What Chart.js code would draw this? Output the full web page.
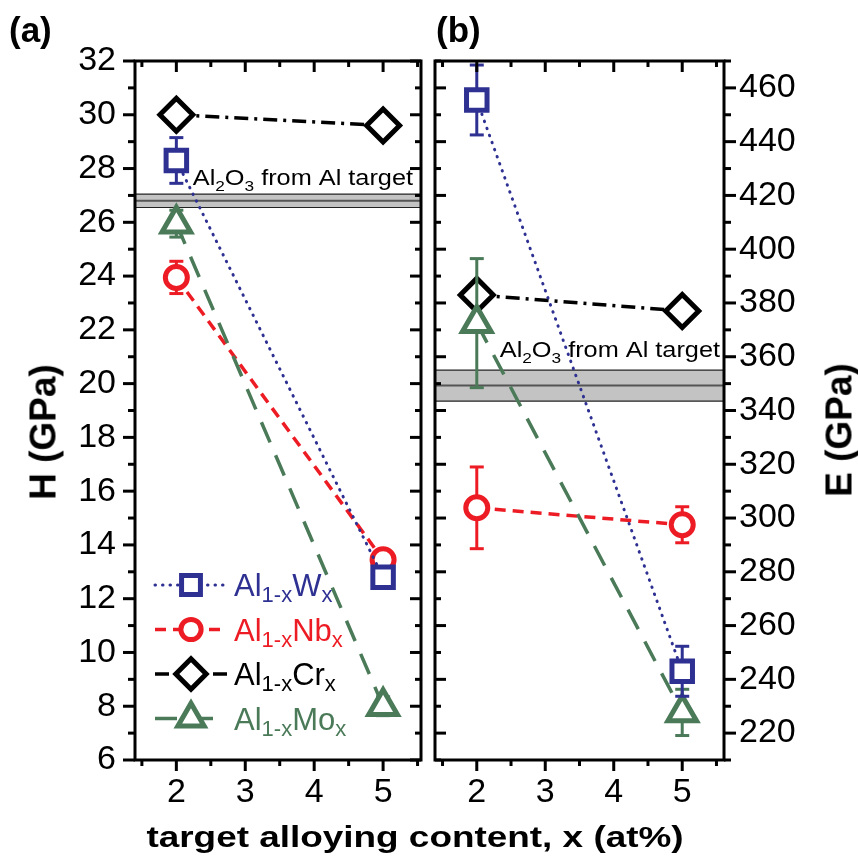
<!DOCTYPE html>
<html>
<head>
<meta charset="utf-8">
<script src="https://cdn.jsdelivr.net/npm/chart.js@4.4.1/dist/chart.umd.min.js"></script>
<style>
  body { margin: 0; background: #fff; }
  #wrap { position: relative; width: 858px; height: 858px; overflow: hidden; background: #fff; }
  canvas { position: absolute; top: 0; }
  .t { position: absolute; font-family: "Liberation Sans", Arial, sans-serif; font-weight: bold; color: #000; line-height: 1; white-space: nowrap; }
</style>
</head>
<body>
<div id="wrap">
  <canvas id="chartA" width="430" height="858" style="left:0"></canvas>
  <canvas id="chartB" width="430" height="858" style="left:428px"></canvas>
  <div class="t" style="left:9px;top:12px;font-size:35px">(a)</div>
  <div class="t" style="left:436px;top:12px;font-size:35px">(b)</div>
  <div class="t" style="left:43px;top:432px;font-size:37px;transform:translate(-50%,-50%) rotate(-90deg)">H (GPa)</div>
  <div class="t" style="left:839px;top:430px;font-size:37px;transform:translate(-50%,-50%) rotate(-90deg)">E (GPa)</div>
  <div class="t" style="left:415px;top:837px;font-size:30px;transform:translate(-50%,-50%) scaleX(1.23)">target alloying content, x (at%)</div>
</div>
<script>
const FONT = '"Liberation Sans", Arial, sans-serif';

// data
const xValues = [2, 5];
const xTicks = [2, 3, 4, 5];
const xMinorTicks = [1.5, 2.5, 3.5, 4.5, 5.5];
const hTicks = [6, 8, 10, 12, 14, 16, 18, 20, 22, 24, 26, 28, 30, 32];
const hMinorTicks = [7, 9, 11, 13, 15, 17, 19, 21, 23, 25, 27, 29, 31];
const eTicks = [220, 240, 260, 280, 300, 320, 340, 360, 380, 400, 420, 440, 460];
const eMinorTicks = [210, 230, 250, 270, 290, 310, 330, 350, 370, 390, 410, 430, 450, 470];

const seriesLabels = ['Al_{1-x}W_{x}', 'Al_{1-x}Nb_{x}', 'Al_{1-x}Cr_{x}', 'Al_{1-x}Mo_{x}'];

const hW = [28.3, 12.8];
const hWErr = [0.85, 0.3];
const hNb = [23.95, 13.45];
const hNbErr = [0.6, 0.3];
const hCr = [30.0, 29.6];
const hCrErr = [0.15, 0.25];
const hMo = [25.95, 8.0];
const hMoErr = [0.5, 0.35];

const eW = [455.5, 243];
const eWErr = [13, 9.3];
const eNb = [303.8, 297.5];
const eNbErr = [15.2, 6.7];
const eCr = [383, 377];
const eCrErr = [2, 4];
const eMo = [372.5, 227.7];
const eMoErr = [24, 8.6];

const refLabel = 'Al_{2}O_{3} from Al target';
const hRefBand = [26.55, 27.05];
const hRefLine = 26.8;
const eRefBand = [343.5, 355];
const eRefLine = 349.3;

// styles
const styles = [
  { color: '#2e3192', dash: [0.5, 7], cap: 'round', width: 3, point: 'rect', r: 14.5, order: 1 },
  { color: '#ed1c24', dash: [11, 7], cap: 'butt', width: 3.5, point: 'circle', r: 11, order: 3 },
  { color: '#000000', dash: [14, 6, 3, 6], cap: 'butt', width: 3.5, point: 'rectRot', r: 16.5, order: 4 },
  { color: '#4a7a58', dash: [22, 14], cap: 'butt', width: 3.5, point: 'triangle', r: 16.5, order: 2 }
];

function makeDatasets(values, errors) {
  return values.map((vals, i) => {
    const s = styles[i];
    return {
      label: seriesLabels[i],
      data: xValues.map((x, j) => ({ x, y: vals[j] })),
      errors: errors[i],
      order: s.order,
      borderColor: s.color,
      borderWidth: s.width,
      borderDash: s.dash,
      borderCapStyle: s.cap,
      tension: 0,
      fill: false,
      pointStyle: s.point,
      pointRadius: s.r,
      pointHoverRadius: s.r,
      pointBorderWidth: 5,
      pointBackgroundColor: '#fff',
      pointBorderColor: s.color
    };
  });
}

function seg(ctx, x1, y1, x2, y2) {
  ctx.beginPath();
  ctx.moveTo(x1, y1);
  ctx.lineTo(x2, y2);
  ctx.stroke();
}

function parseRich(str) {
  const parts = [];
  const re = /_\{([^}]*)\}/g;
  let last = 0, m;
  while ((m = re.exec(str))) {
    if (m.index > last) parts.push({ t: str.slice(last, m.index), sub: false });
    parts.push({ t: m[1], sub: true });
    last = re.lastIndex;
  }
  if (last < str.length) parts.push({ t: str.slice(last), sub: false });
  return parts;
}

function drawRich(ctx, str, x, y, size, subSize, drop, color, align, sx) {
  const parts = parseRich(str);
  ctx.save();
  ctx.fillStyle = color;
  ctx.textBaseline = 'alphabetic';
  ctx.textAlign = 'left';
  let w = 0;
  parts.forEach(p => {
    ctx.font = (p.sub ? subSize : size) + 'px ' + FONT;
    p.w = ctx.measureText(p.t).width;
    w += p.w;
  });
  ctx.translate(x, y);
  ctx.scale(sx, 1);
  let cx = align === 'right' ? -w : 0;
  parts.forEach(p => {
    ctx.font = (p.sub ? subSize : size) + 'px ' + FONT;
    ctx.fillText(p.t, cx, p.sub ? drop : 0);
    cx += p.w;
  });
  ctx.restore();
}

function drawMarker(ctx, style, radius, bw, x, y) {
  if (Chart.helpers && Chart.helpers.drawPoint) {
    Chart.helpers.drawPoint(ctx, { pointStyle: style, radius, rotation: 0, borderWidth: bw }, x, y);
    return;
  }
  ctx.beginPath();
  ctx.arc(x, y, radius, 0, Math.PI * 2);
  ctx.fill();
  ctx.stroke();
}

const panelPlugin = {
  id: 'panel',
  beforeDatasetsDraw(chart, args, o) {
    const { ctx, chartArea: a } = chart;
    const y = chart.scales.y;
    const top = y.getPixelForValue(o.band[1]);
    const bot = y.getPixelForValue(o.band[0]);
    const mid = y.getPixelForValue(o.line);
    ctx.save();
    ctx.fillStyle = '#c3c3c3';
    ctx.fillRect(a.left, top, a.right - a.left, bot - top);
    ctx.strokeStyle = '#222';
    ctx.lineWidth = 1.2;
    seg(ctx, a.left, top, a.right, top);
    seg(ctx, a.left, bot, a.right, bot);
    ctx.strokeStyle = '#555';
    ctx.lineWidth = 2;
    seg(ctx, a.left, mid, a.right, mid);
    drawRich(ctx, refLabel, a.right - o.noteDx, top - o.noteDy, 22, 15, 6, '#000', 'right', 1.15);
    ctx.restore();
  },
  beforeDatasetDraw(chart, args) {
    const ds = chart.data.datasets[args.index];
    if (!ds.errors) return;
    const { ctx } = chart;
    const y = chart.scales.y;
    ctx.save();
    ctx.strokeStyle = ds.borderColor;
    ctx.lineWidth = 3;
    args.meta.data.forEach((pt, i) => {
      const v = ds.data[i].y, e = ds.errors[i];
      const y1 = y.getPixelForValue(v + e);
      const y2 = y.getPixelForValue(v - e);
      seg(ctx, pt.x, y1, pt.x, y2);
      seg(ctx, pt.x - 7, y1, pt.x + 7, y1);
      seg(ctx, pt.x - 7, y2, pt.x + 7, y2);
    });
    ctx.restore();
  },
  afterDraw(chart, args, o) {
    const { ctx, chartArea: a } = chart;
    const x = chart.scales.x, y = chart.scales.y;
    ctx.save();
    ctx.strokeStyle = '#000';
    ctx.lineWidth = 3;
    [[xTicks, 11], [xMinorTicks, 6]].forEach(([vals, len]) => vals.forEach(v => {
      const px = x.getPixelForValue(v);
      seg(ctx, px, a.top, px, a.top + len);
      seg(ctx, px, a.bottom, px, a.bottom + len);
    }));
    [[o.yMajor, 12], [o.yMinor, 7]].forEach(([vals, len]) => vals.forEach(v => {
      const py = y.getPixelForValue(v);
      if (o.labelSide === 'left') {
        seg(ctx, a.left - len, py, a.left, py);
        seg(ctx, a.right - len + 1, py, a.right, py);
      } else {
        seg(ctx, a.left, py, a.left + len - 1, py);
        seg(ctx, a.right, py, a.right + len, py);
      }
    }));
    ctx.strokeRect(a.left, a.top, a.right - a.left, a.bottom - a.top);

    if (o.legend) {
      const L = o.legend;
      chart.data.datasets.forEach((ds, i) => {
        const cy = L.y + i * L.dy;
        ctx.strokeStyle = ds.borderColor;
        ctx.lineWidth = ds.borderWidth;
        ctx.lineCap = ds.borderCapStyle;
        ctx.setLineDash(ds.borderDash);
        seg(ctx, L.x0, cy, L.x1, cy);
        ctx.setLineDash([]);
        ctx.lineCap = 'butt';
        ctx.fillStyle = '#fff';
        ctx.lineWidth = ds.pointBorderWidth;
        drawMarker(ctx, ds.pointStyle, ds.pointRadius * 0.92, ds.pointBorderWidth, (L.x0 + L.x1) / 2, cy);
        drawRich(ctx, ds.label, L.tx, cy + 11, 31, 22, 6, ds.borderColor, 'left', 1);
      });
    }
    ctx.restore();
  }
};

function xScale(min, max) {
  return {
    type: 'linear', min, max,
    afterBuildTicks: s => { s.ticks = xTicks.map(v => ({ value: v })); },
    afterFit: s => { s.height = 98; s.paddingLeft = 0; s.paddingRight = 0; },
    grid: { display: false, drawTicks: false },
    border: { display: false },
    ticks: { font: { size: 34, family: FONT }, color: '#000', padding: 12, autoSkip: false, maxRotation: 0 }
  };
}

function yScale(min, max, ticks, position, width, padding) {
  return {
    type: 'linear', min, max, position,
    afterBuildTicks: s => { s.ticks = ticks.map(v => ({ value: v })); },
    afterFit: s => { s.width = width; },
    grid: { display: false, drawTicks: false },
    border: { display: false },
    ticks: { font: { size: 34, family: FONT }, color: '#000', padding, autoSkip: false }
  };
}

const chartA = new Chart(document.getElementById('chartA'), {
  type: 'line',
  data: { datasets: makeDatasets([hW, hNb, hCr, hMo], [hWErr, hNbErr, hCrErr, hMoErr]) },
  options: {
    responsive: false,
    animation: false,
    layout: { autoPadding: false, padding: { left: 0, right: 9, top: 61, bottom: 0 } },
    plugins: {
      legend: { display: false },
      tooltip: { enabled: false },
      panel: {
        band: hRefBand, line: hRefLine, noteDx: 8, noteDy: 9,
        yMajor: hTicks, yMinor: hMinorTicks, labelSide: 'left',
        legend: { x0: 155, x1: 227, tx: 234, y: 585, dy: 44.5 }
      }
    },
    scales: {
      x: xScale(1.4, 5.55),
      y: yScale(6, 32, hTicks, 'left', 135, 19)
    }
  },
  plugins: [panelPlugin]
});

const chartB = new Chart(document.getElementById('chartB'), {
  type: 'line',
  data: { datasets: makeDatasets([eW, eNb, eCr, eMo], [eWErr, eNbErr, eCrErr, eMoErr]) },
  options: {
    responsive: false,
    animation: false,
    layout: { autoPadding: false, padding: { left: 7, right: 0, top: 61, bottom: 0 } },
    plugins: {
      legend: { display: false },
      tooltip: { enabled: false },
      panel: {
        band: eRefBand, line: eRefLine, noteDx: 4, noteDy: 12.7,
        yMajor: eTicks, yMinor: eMinorTicks, labelSide: 'right'
      }
    },
    scales: {
      x: xScale(1.39, 5.61),
      y: yScale(210, 470, eTicks, 'right', 134, 15)
    }
  },
  plugins: [panelPlugin]
});
</script>
</body>
</html>
